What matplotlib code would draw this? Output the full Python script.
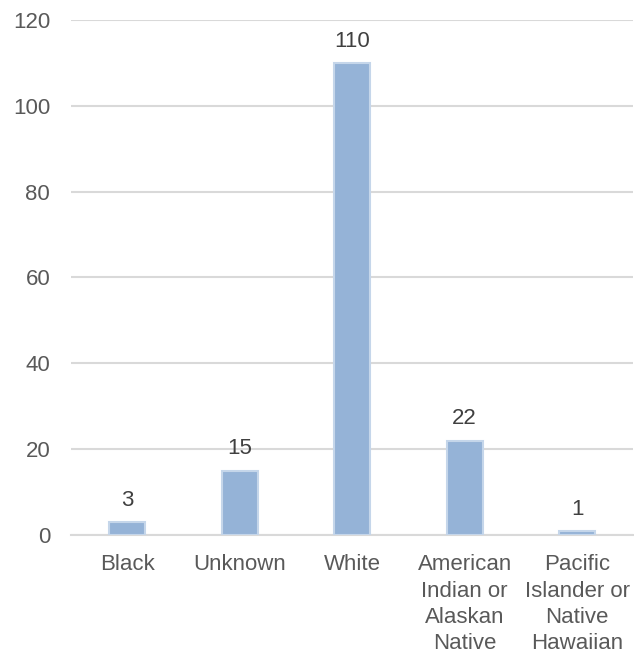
import numpy as np
import matplotlib
matplotlib.use("Agg")
import matplotlib.pyplot as plt

categories = ["Black", "Unknown", "White", "American\nIndian or\nAlaskan\nNative",
              "Pacific\nIslander or\nNative\nHawaiian"]
counts = [3, 15, 110, 22, 1]
yticks = [0, 20, 40, 60, 80, 100, 120]

plt.rcParams['font.family'] = ['Liberation Sans', 'DejaVu Sans']
txt = "#595959"

fig = plt.figure(figsize=(6.34, 6.56), dpi=100)
ax = fig.add_axes([0.112, 0.1845, 0.887, 0.785])

x = np.arange(len(categories))
bars = ax.bar(x, counts, width=0.32, color="#95B3D7", edgecolor="#C5D6EA", linewidth=1.5, zorder=3)

for xi, v in zip(x, counts):
    ax.annotate(str(v), (xi, v), xytext=(0, 8), textcoords="offset points",
                ha="center", va="bottom", fontsize=16, color="#404040")

ax.set_xlim(-0.5, len(categories) - 0.5)
ax.set_ylim(0, 120)
ax.set_yticks(yticks)
ax.set_xticks(x)
ax.set_xticklabels(categories, linespacing=1.32)
ax.tick_params(axis="both", length=0, labelsize=16, labelcolor=txt)
ax.tick_params(axis="y", pad=15)
ax.tick_params(axis="x", pad=14)
ax.grid(axis="y", color="#D9D9D9", linewidth=1.5, zorder=0)
for s in ["top", "right", "left"]:
    ax.spines[s].set_visible(False)
ax.spines["bottom"].set_color("#D9D9D9")
ax.spines["bottom"].set_linewidth(1.5)

fig.savefig("out.png", dpi=100)
